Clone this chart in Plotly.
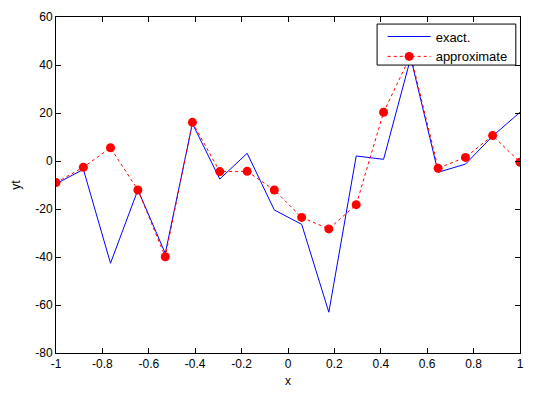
import numpy as np
import plotly.graph_objects as go

x = [-1.0, -0.882, -0.765, -0.647, -0.529, -0.412, -0.294, -0.176, -0.059,
     0.059, 0.176, 0.294, 0.412, 0.529, 0.647, 0.765, 0.882, 1.0]
exact = [-9.5, -3.5, -42.6, -12.0, -38.5, 15.6, -7.5, 3.2, -20.4,
         -26.4, -63.0, 2.1, 0.7, 43.0, -4.7, -1.3, 10.4, 20.3]
approx = [-9.0, -2.6, 5.5, -12.1, -39.9, 16.1, -4.4, -4.3, -12.1,
          -23.5, -28.3, -18.2, 20.3, 44.0, -3.0, 1.5, 10.6, -0.5]

xticks = [-1, -0.8, -0.6, -0.4, -0.2, 0, 0.2, 0.4, 0.6, 0.8, 1]
xticktext = ["-1", "-0.8", "-0.6", "-0.4", "-0.2", "0", "0.2", "0.4", "0.6", "0.8", "1"]
yticks = [-80, -60, -40, -20, 0, 20, 40, 60]
yticktext = ["-80", "-60", "-40", "-20", "0", "20", "40", "60"]

font = dict(family="Liberation Sans, Arial, sans-serif", size=12, color="black")

fig = go.Figure()
fig.add_trace(go.Scatter(x=x, y=exact, mode="lines", name="exact.",
                         line=dict(color="blue", width=1)))
fig.add_trace(go.Scatter(x=x, y=approx, mode="lines+markers", name="approximate",
                         line=dict(color="red", width=1, dash="3px,3px"),
                         marker=dict(color="red", size=9, symbol="circle")))

axis_common = dict(showline=True, linecolor="black", linewidth=1, mirror="ticks",
                   ticks="inside", ticklen=5, tickcolor="black", showgrid=False,
                   zeroline=False, tickfont=font, automargin=False)
fig.update_xaxes(range=[-1, 1], tickvals=xticks, ticktext=xticktext,
                 title=dict(text="x", font=font, standoff=6), **axis_common)
fig.update_yaxes(range=[-80, 60], tickvals=yticks, ticktext=yticktext,
                 title=dict(text="yt", font=font, standoff=12), **axis_common)

# legend frame (opaque, covers the lines like the original)
fig.add_shape(type="rect", xref="paper", yref="paper",
              x0=0.692, x1=0.991, y0=0.857, y1=0.979,
              fillcolor="white", line=dict(color="black", width=1), layer="above")

fig.update_layout(
    width=534, height=394,
    margin=dict(l=55.5, r=14, t=17, b=41),
    paper_bgcolor="white", plot_bgcolor="white",
    font=font,
    showlegend=True,
    legend=dict(x=0.704, y=0.9865, xanchor="left", yanchor="top",
                bgcolor="rgba(0,0,0,0)", borderwidth=0,
                font=dict(family="Liberation Sans, Arial, sans-serif", size=13),
                tracegroupgap=0, itemwidth=43),
)

fig.write_html("out.html", config={"displayModeBar": False},
               post_script="document.body.style.margin='0';")
